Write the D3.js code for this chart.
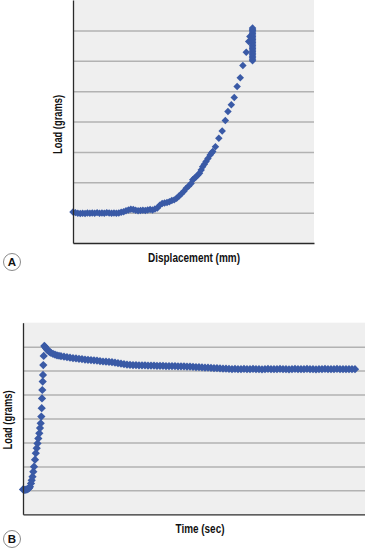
<!DOCTYPE html>
<html>
<head>
<meta charset="utf-8">
<script src="https://cdn.jsdelivr.net/npm/d3@7"></script>
<style>
  html, body { margin: 0; padding: 0; background: #ffffff; }
  svg { display: block; }
  .lbl { font-family: "Liberation Sans", Arial, sans-serif; font-weight: bold; font-size: 13px; fill: #111; }
  .tag { font-family: "Liberation Sans", Arial, sans-serif; font-weight: bold; font-size: 11.5px; fill: #111; }
</style>
</head>
<body>
<script>
// ---------- Panel A: Load vs Displacement ----------
const dispValues = [
  0,1,2,3,4,5,6,7,8,9,10,11,12,13,14,15,16,17,18,19,20,21,22,23,24,25,26,27,28,29,30,31,32,33,34,35,36,37,38,39,40,41,42,43,44,45,
  46,47,48,49,49.7,50.4,51.1,51.8,52.5,53.2,53.8,54.5,55.2,56.0,56.9,57.5,58.0,59.1,60.5,61.9,63.2,64.3,65.7,66.9,68.1,69.4,70.5,71.9,72.9,73.4,
  74.5,74.5,74.5,74.5,74.5,74.5,74.5,74.5,74.5,74.5,74.5,74.5,74.5,74.5,74.5,74.5,74.5,74.5,74.5,74.5,74.5,74.5,74.5
];
const loadA = [
  1.02,1.00,0.98,0.97,0.98,0.97,0.99,0.98,0.99,0.98,1.00,0.98,0.99,0.98,1.00,0.99,0.98,0.99,0.98,0.99,1.01,1.03,1.06,1.09,1.11,1.10,1.08,1.06,1.07,1.08,1.07,1.09,1.10,1.09,1.12,1.15,1.24,1.30,1.32,1.33,1.36,1.40,1.42,1.47,1.55,1.62,
  1.70,1.80,1.88,1.96,2.08,2.13,2.18,2.24,2.30,2.40,2.51,2.59,2.68,2.78,2.90,2.96,3.01,3.17,3.45,3.69,4.03,4.33,4.55,4.79,5.15,5.44,5.84,6.28,6.63,6.80,
  6.00,6.05,6.10,6.15,6.20,6.25,6.30,6.35,6.40,6.45,6.50,6.55,6.60,6.65,6.70,6.75,6.80,6.85,6.90,6.95,7.00,7.04,7.08
];
const gridA = [1,2,3,4,5,6,7];

// ---------- Panel B: Load vs Time ----------
const timeValues = [
  0,1,2,3,4,5,6,7,8,8.7,9.5,10.3,11,12,12.8,13.7,14.5,15.3,16.3,17,17.7,18.3,18.7,19,19.3,19.7,20,20.3,20.7,21.3,
  22,23,24,25,26,27,28,30,32,34,36,38,41,44,47,50,53,56,59,62,65,68,71,74,77,80,83,86,89,92,95,98,101,104,107,110,113,116,119,122,125,128,131,134,137,140,
  143,146,149,152,155,158,161,164,167,170,173,176,179,182,185,188,191,194,197,200,203,206,209,212,215,218,221,224,227,230,233,236,239,242,245,248,251,254,257,260,
  263,266,269,272,275,278,281,284,287,290,293,296,299,302,305,308,311,314,317,320,323,326,329,332
];
const loadB = [
  1.04,1.02,1.02,1.03,1.04,1.06,1.09,1.15,1.29,1.42,1.57,1.78,1.99,2.28,2.55,2.76,2.96,3.17,3.38,3.60,3.80,4.08,4.43,4.84,5.19,5.54,5.82,6.23,6.61,7.03,
  7.00,6.93,6.88,6.84,6.80,6.77,6.74,6.70,6.67,6.64,6.62,6.60,6.58,6.56,6.54,6.52,6.51,6.49,6.48,6.46,6.45,6.44,6.43,6.42,6.40,6.38,6.37,6.36,6.35,6.33,6.31,6.29,6.27,6.25,6.24,6.23,6.23,6.22,6.22,6.22,6.21,6.21,6.21,6.20,6.20,6.20,
  6.19,6.19,6.19,6.19,6.18,6.18,6.18,6.17,6.17,6.16,6.15,6.14,6.13,6.12,6.12,6.11,6.10,6.10,6.09,6.08,6.08,6.07,6.06,6.07,6.06,6.06,6.07,6.06,6.06,6.07,6.06,6.06,6.05,6.06,6.07,6.06,6.06,6.06,6.07,6.06,
  6.06,6.05,6.06,6.07,6.06,6.06,6.06,6.07,6.06,6.06,6.05,6.06,6.06,6.07,6.06,6.06,6.06,6.07,6.06,6.06,6.06,6.06,6.06,6.06
];
const gridB = [1,2,3,4,5,6,7];

const W = 365, H = 548;
const blue = "#3a5aa6";
const svg = d3.select("body").append("svg").attr("width", W).attr("height", H);

function panel(cfg) {
  const g = svg.append("g").attr("transform", `translate(${cfg.left},${cfg.top})`);
  const x = d3.scaleLinear().domain(cfg.xDomain).range([0, cfg.width]);
  const y = d3.scaleLinear().domain([0, 8]).range([cfg.height, 0]);

  g.append("rect").attr("width", cfg.width).attr("height", cfg.height).attr("fill", "#efefef");

  const grid = g.append("g").call(d3.axisLeft(y).tickValues(cfg.grid).tickSize(-cfg.width).tickFormat(""));
  grid.select(".domain").remove();
  grid.selectAll(".tick line").attr("stroke", "#b2b2b2").attr("stroke-width", 1.5);

  const pts = cfg.xs.map((v, i) => [v, cfg.ys[i]]);
  const sym = d3.symbol().type(d3.symbolSquare).size(cfg.markerSize);
  g.append("g").selectAll("path").data(pts).join("path")
    .attr("d", sym)
    .attr("fill", blue)
    .attr("transform", d => `translate(${x(d[0])},${y(d[1])}) rotate(45)`);

  const ax = g.append("g").attr("transform", `translate(0,${cfg.height})`)
    .call(d3.axisBottom(x).tickValues([]).tickSizeOuter(0));
  ax.select(".domain").attr("stroke", "#2a2a2a").attr("stroke-width", 1.3);
  const ay = g.append("g").call(d3.axisLeft(y).tickValues([]).tickSizeOuter(0));
  ay.select(".domain").attr("stroke", "#2a2a2a").attr("stroke-width", 1.3);

  svg.append("text").attr("class", "lbl")
    .attr("transform", `translate(${cfg.yLabelX},${cfg.yLabelY}) rotate(-90)`)
    .attr("text-anchor", "middle")
    .attr("textLength", 59).attr("lengthAdjust", "spacingAndGlyphs")
    .text("Load (grams)");
  svg.append("text").attr("class", "lbl")
    .attr("x", cfg.xLabelX).attr("y", cfg.xLabelY)
    .attr("text-anchor", "middle")
    .attr("textLength", cfg.xLabelLen).attr("lengthAdjust", "spacingAndGlyphs")
    .text(cfg.xLabel);

  svg.append("circle").attr("cx", 12).attr("cy", cfg.tagY).attr("r", 8.5)
    .attr("fill", "#fff").attr("stroke", "#8a8a8a").attr("stroke-width", 1);
  svg.append("text").attr("class", "tag").attr("x", 12).attr("y", cfg.tagY + 4)
    .attr("text-anchor", "middle").text(cfg.tag);
}

panel({
  left: 73, top: 0, width: 241, height: 243, xDomain: [0, 100],
  xs: dispValues, ys: loadA, grid: gridA, markerSize: 28,
  xLabel: "Displacement (mm)", xLabelX: 194, xLabelY: 262, xLabelLen: 92,
  yLabelX: 61.5, yLabelY: 124.5, tag: "A", tagY: 262
});

panel({
  left: 23, top: 322.7, width: 342, height: 191.6, xDomain: [0, 342],
  xs: timeValues, ys: loadB, grid: gridB, markerSize: 34,
  xLabel: "Time (sec)", xLabelX: 200, xLabelY: 532.5, xLabelLen: 49,
  yLabelX: 12, yLabelY: 420, tag: "B", tagY: 539
});
</script>
</body>
</html>
